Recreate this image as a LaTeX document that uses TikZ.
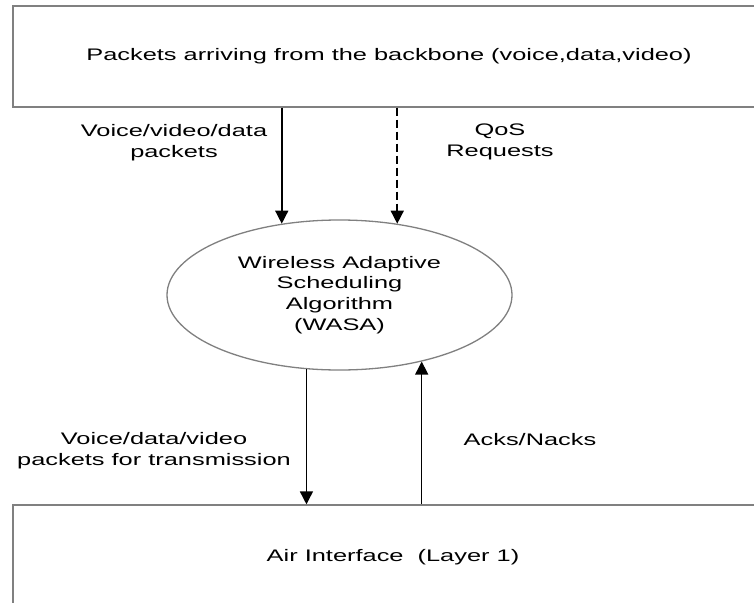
\documentclass[tikz,border=0pt]{standalone}
\usepackage{fontspec}
\newfontfamily\labfam[FakeStretch=1.52]{Liberation Sans}
\newcommand\labfont{\labfam\fontsize{16.7}{20.7}\selectfont}
\usetikzlibrary{arrows.meta,shapes.geometric}
\tikzset{
  boxnode/.style={draw=black!50, line width=1.3pt, inner sep=0pt, font=\labfont, align=center, text=black},
  lbl/.style={font=\labfont, align=center, inner sep=0pt, text=black},
  arr/.style={draw=black, line width=1.5pt, -{Triangle[length=13pt,width=13pt]}},
}
\begin{document}
\begin{tikzpicture}[x=1pt,y=-1pt]
\useasboundingbox (0,0) rectangle (754,602);
\clip (0,0) rectangle (754,602);
\fill[white] (0,0) rectangle (754,602);
\node[boxnode, minimum width=752pt, minimum height=101pt] (top) at (389,56.5)
  {Packets arriving from the backbone (voice,data,video)};
\node[boxnode, ellipse, minimum width=345pt, minimum height=150pt] (wasa) at (339.5,295)
  {Wireless Adaptive\\Scheduling\\Algorithm\\(WASA)};
\node[boxnode, minimum width=760pt, minimum height=104pt] (air) at (393,557)
  {Air Interface~ (Layer 1)};
\draw[arr] (top.south -| wasa.129.12) -- (wasa.129.12);
\draw[arr, dash pattern=on 8pt off 4pt] (top.south -| wasa.51.45) -- (wasa.51.45);
\draw[arr] (wasa.246.86) -- (wasa.246.86 |- air.north);
\draw[arr] (wasa.321.68 |- air.north) -- (wasa.321.68);
\node[lbl] (l1) at (174,143) {Voice/video/data\\packets};
\node[lbl] (l2) at (500,142) {QoS\\Requests};
\node[lbl] (l3) at (154,450.5) {Voice/data/video\\packets for transmission};
\node[lbl] (l4) at (530,440) {Acks/Nacks};
\end{tikzpicture}
\end{document}
